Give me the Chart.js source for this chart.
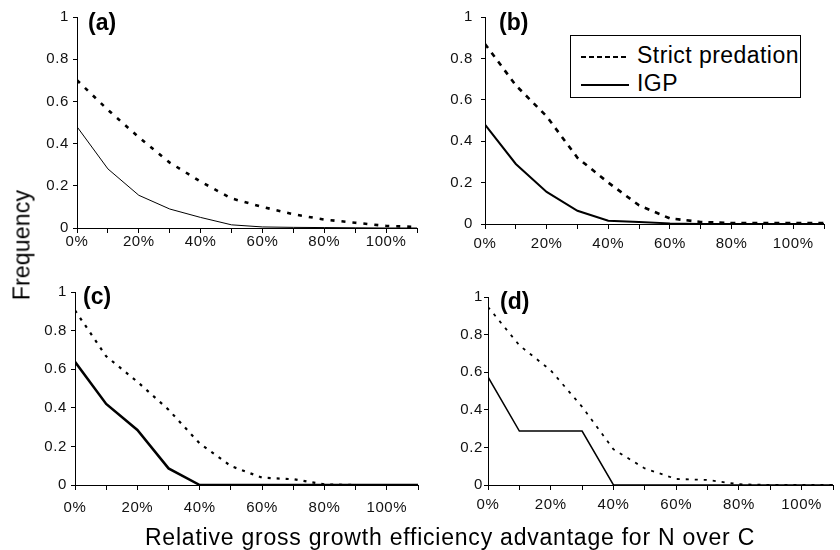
<!DOCTYPE html>
<html><head><meta charset="utf-8">
<script src="https://cdn.jsdelivr.net/npm/chart.js@4.4.1/dist/chart.umd.min.js"></script>
<style>
html,body{margin:0;padding:0;background:#fff;}
body{width:840px;height:550px;position:relative;overflow:hidden;font-family:"Liberation Sans",Arial,sans-serif;color:#000;}
canvas{position:absolute;}
.t{position:absolute;white-space:nowrap;font-size:23px;line-height:23px;}
.pl{font-weight:bold;}
#ytitle{left:22px;top:245px;transform:translate(-50%,-50%) rotate(-90deg);letter-spacing:0.2px;}
#xtitle{left:450px;top:525.5px;transform:translateX(-50%);letter-spacing:0.78px;}
#legend{position:absolute;left:570px;top:35px;width:231px;height:63px;border:1px solid #000;box-sizing:border-box;background:#fff;}
</style></head>
<body>
<canvas id="ca" width="410" height="260" style="left:20px;top:0px"></canvas>
<canvas id="cb" width="410" height="256" style="left:430px;top:0px"></canvas>
<canvas id="cc" width="410" height="245" style="left:20px;top:270px"></canvas>
<canvas id="cd" width="410" height="245" style="left:430px;top:270px"></canvas>

<div class="t pl" style="left:88px;top:10.5px">(a)</div>
<div class="t pl" style="left:499px;top:10.5px">(b)</div>
<div class="t pl" style="left:83px;top:284.5px">(c)</div>
<div class="t pl" style="left:500px;top:289.5px">(d)</div>

<div id="legend"></div>
<svg style="position:absolute;left:0;top:0" width="840" height="550">
  <line x1="581" y1="57" x2="629" y2="57" stroke="#000" stroke-width="2" stroke-dasharray="5 3"/>
  <line x1="581" y1="85" x2="629" y2="85" stroke="#000" stroke-width="2"/>
</svg>
<div class="t" style="left:637px;top:43.5px;letter-spacing:0.45px">Strict predation</div>
<div class="t" style="left:637px;top:71.5px;letter-spacing:0.45px">IGP</div>

<div class="t" id="ytitle">Frequency</div>
<div class="t" id="xtitle">Relative gross growth efficiency advantage for N over C</div>

<script>
// ---- data ----
const xPercent = [0, 10, 20, 30, 40, 50, 60, 70, 80, 90, 100, 110];
const yTicks = [0, 0.2, 0.4, 0.6, 0.8, 1];
const seriesNames = ["Strict predation", "IGP"];

const strictA = [0.70, 0.56, 0.43, 0.31, 0.22, 0.14, 0.10, 0.065, 0.04, 0.025, 0.01, 0.005];
const igpA    = [0.48, 0.28, 0.155, 0.09, 0.05, 0.015, 0.005, 0.003, 0.002, 0.001, 0, 0];

const strictB = [0.87, 0.67, 0.52, 0.32, 0.20, 0.09, 0.027, 0.01, 0.005, 0.005, 0.005, 0.005];
const igpB    = [0.48, 0.29, 0.155, 0.064, 0.016, 0.01, 0.003, 0, 0, 0, 0, 0];

const strictC = [0.905, 0.667, 0.535, 0.39, 0.215, 0.098, 0.038, 0.03, 0.003, 0, 0, 0];
const igpC    = [0.638, 0.42, 0.285, 0.086, 0, 0, 0, 0, 0, 0, 0, 0];

const strictD = [0.947, 0.743, 0.61, 0.416, 0.19, 0.088, 0.032, 0.027, 0.004, 0, 0, 0];
const igpD    = [0.575, 0.287, 0.287, 0.287, 0, 0, 0, 0, 0, 0, 0, 0];

// ---- per-panel styling / geometry ----
const panels = [
  {id:'ca', strict:strictA, igp:igpA, yW:57, xH:32, top:17, right:13, xPad:0, yPad:4,
   dash:[4,7], dashW:2.6, solidW:1},
  {id:'cb', strict:strictB, igp:igpB, yW:55, xH:32, top:15, right:16, xPad:6, yPad:8,
   dash:[5,6], dashW:2.6, solidW:2},
  {id:'cc', strict:strictC, igp:igpC, yW:55, xH:30, top:22, right:12, xPad:9, yPad:4,
   dash:[3,6], dashW:2.2, solidW:2.5},
  {id:'cd', strict:strictD, igp:igpD, yW:58, xH:30, top:27, right:7, xPad:6, yPad:1,
   dash:[3,6], dashW:1.8, solidW:1.5}
];

const tickFont = {family:"'Liberation Sans', Arial, sans-serif", size:15};

const spacingPlugin = {
  id:'spacing',
  beforeDraw(chart){ if ('letterSpacing' in chart.ctx) chart.ctx.letterSpacing = '0.6px'; }
};

panels.forEach(p => {
  const toPts = arr => xPercent.map((x, i) => ({x: x, y: arr[i]}));
  new Chart(document.getElementById(p.id), {
    type: 'line',
    plugins: [spacingPlugin],
    data: {
      datasets: [
        {label: seriesNames[0], data: toPts(p.strict), borderColor:'#000', borderWidth:p.dashW,
         borderDash:p.dash, pointRadius:0, tension:0, fill:false, borderCapStyle:'butt'},
        {label: seriesNames[1], data: toPts(p.igp), borderColor:'#000', borderWidth:p.solidW,
         pointRadius:0, tension:0, fill:false}
      ]
    },
    options: {
      responsive:false, animation:false, events:[],
      layout:{padding:{top:p.top, right:p.right, left:0, bottom:0}},
      plugins:{legend:{display:false}, tooltip:{enabled:false}},
      scales:{
        x:{type:'linear', min:0, max:110,
           afterBuildTicks: s => { s.ticks = xPercent.map(v => ({value:v})); },
           afterFit: s => { s.height = p.xH; },
           ticks:{autoSkip:false, maxRotation:0, minRotation:0, padding:p.xPad, color:'#111', font:tickFont,
                  callback: v => (v % 20 === 0 && v <= 100) ? v + '%' : ''},
           grid:{drawOnChartArea:false, drawTicks:true, tickLength:5, color:'#000', lineWidth:1},
           border:{display:true, color:'#000', width:1}},
        y:{type:'linear', min:0, max:1,
           afterBuildTicks: s => { s.ticks = yTicks.map(v => ({value:v})); },
           afterFit: s => { s.width = p.yW; },
           ticks:{padding:p.yPad, color:'#111', font:tickFont,
                  callback: v => String(v)},
           grid:{drawOnChartArea:false, drawTicks:true, tickLength:4, color:'#000', lineWidth:1},
           border:{display:true, color:'#000', width:1}}
      }
    }
  });
});
</script>
</body></html>
